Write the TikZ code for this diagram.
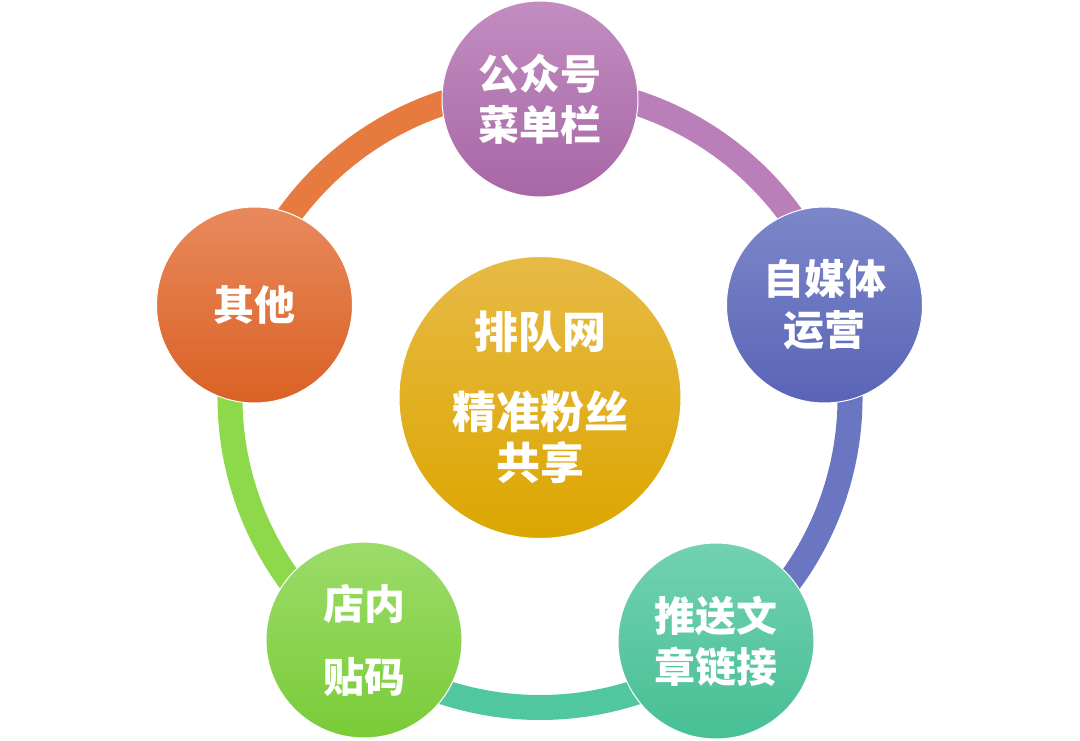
\documentclass[tikz,border=0pt]{standalone}
\usepackage{fontspec}
\newfontfamily\cjk{Noto Sans CJK SC}
\usepackage{xcolor}

\definecolor{hubtop}{HTML}{E7BA45}
\definecolor{hubbot}{HTML}{DCA600}
\definecolor{menutop}{HTML}{C28DC1}
\definecolor{menubot}{HTML}{A767A5}
\definecolor{mediatop}{HTML}{7C87C9}
\definecolor{mediabot}{HTML}{5964B7}
\definecolor{pushtop}{HTML}{72D1B2}
\definecolor{pushbot}{HTML}{47BF94}
\definecolor{shoptop}{HTML}{9CDC6A}
\definecolor{shopbot}{HTML}{79CB37}
\definecolor{othertop}{HTML}{E8895C}
\definecolor{otherbot}{HTML}{DA6124}
\definecolor{ringorange}{HTML}{E67A3F}
\definecolor{ringpurple}{HTML}{BA7EB9}
\definecolor{ringblue}{HTML}{6B76C2}
\definecolor{ringteal}{HTML}{51C79F}
\definecolor{ringgreen}{HTML}{8DD84B}

\begin{document}
\begin{tikzpicture}[
    x=1pt, y=1pt,
    bubble/.style={circle, minimum size=196pt, inner sep=0pt, draw=white, line width=1pt, align=center, text=white, font=\cjk\bfseries\fontsize{41}{51}\selectfont},
    hubbubble/.style={bubble, minimum size=282pt, font=\cjk\bfseries\fontsize{44}{51}\selectfont},
    ring/.style={line width=25pt}
]
\useasboundingbox (0,0) rectangle (1080,740);

% Centre
\node[hubbubble, top color=hubtop, bottom color=hubbot] (hub) at (540,342.5) {排队网\\[29pt]精准粉丝\\共享};

% Ring segments (behind the outer bubbles)
\draw[ring, draw=ringorange] ([shift={(162:310)}]hub.center) arc[start angle=162, end angle=90, radius=310];
\draw[ring, draw=ringpurple] ([shift={(90:310)}]hub.center) arc[start angle=90, end angle=18, radius=310];
\draw[ring, draw=ringblue] ([shift={(18:310)}]hub.center) arc[start angle=18, end angle=-54, radius=310];
\draw[ring, draw=ringteal] ([shift={(-54:310)}]hub.center) arc[start angle=-54, end angle=-126, radius=310];
\draw[ring, draw=ringgreen] ([shift={(-126:310)}]hub.center) arc[start angle=-126, end angle=-198, radius=310];

% Outer bubbles
\node[bubble, top color=menutop, bottom color=menubot] (menu) at (540,641) {公众号\\菜单栏};
\node[bubble, top color=mediatop, bottom color=mediabot] (media) at (824.5,435) {自媒体\\运营};
\node[bubble, top color=pushtop, bottom color=pushbot] (push) at (716,99) {推送文\\章链接};
\node[bubble, top color=shoptop, bottom color=shopbot] (shop) at (364,100) {店内\\[22pt]贴码};
\node[bubble, top color=othertop, bottom color=otherbot] (other) at (254.5,435) {其他};

\end{tikzpicture}
\end{document}
